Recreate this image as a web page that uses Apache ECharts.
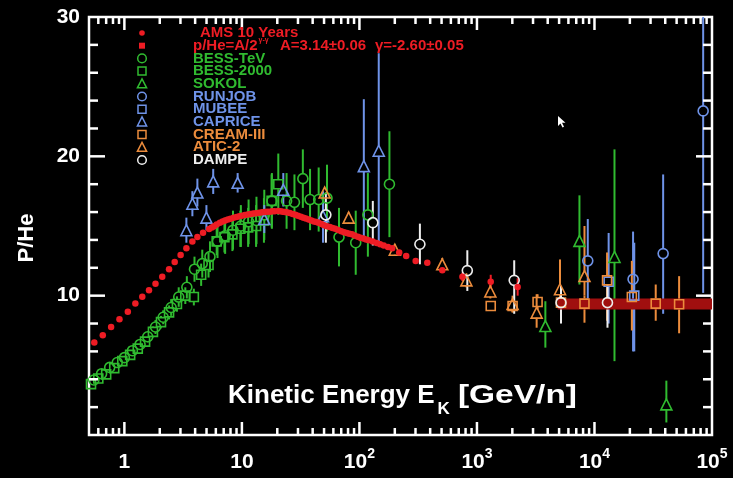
<!DOCTYPE html>
<html><head><meta charset="utf-8">
<script src="https://cdn.jsdelivr.net/npm/echarts@6/dist/echarts.min.js"></script>
<style>html,body{margin:0;padding:0;background:#000;}#c{width:733px;height:478px;}</style>
</head><body><div id="c"></div>
<script>
// ---------------- data ----------------
const amsE = [0.555,0.655,0.771,0.908,1.07,1.24,1.42,1.62,1.84,2.10,2.40,2.68,3.01,3.37,3.79,4.18,4.67,5.26,5.55,5.8,6.1,6.5,6.85,7.2,7.6,8.0,8.5,9.0,9.5,10.0,10.6,11.2,11.8,12.5,13.2,14.0,14.8,15.6,16.4,17.3,18.2,19.0,20.4,21.3,22.3,23.2,24.1,25.5,27,28.5,30,31.7,33.4,35,37,39,41,43,44.9,47.5,50,53,56,59,62.3,66,70,74,78,82,86.3,91,97,102,108,114,120,130,140,150,161,175,190,218,250,301,378,507,752,1310,2220];
const amsV = [6.63,7.16,7.75,8.31,8.85,9.43,9.93,10.39,10.86,11.36,11.89,12.42,12.92,13.40,13.88,14.21,14.52,14.79,14.9,14.98,15.1,15.24,15.32,15.40,15.46,15.52,15.59,15.65,15.70,15.74,15.79,15.83,15.86,15.89,15.92,15.95,15.98,16.0,16.02,16.03,16.05,16.06,16.08,16.06,16.03,16.0,15.98,15.93,15.87,15.8,15.74,15.67,15.60,15.53,15.46,15.4,15.33,15.28,15.24,15.14,15.05,14.98,14.92,14.86,14.81,14.71,14.62,14.56,14.5,14.45,14.41,14.32,14.22,14.16,14.1,14.04,13.98,13.88,13.78,13.69,13.6,13.5,13.4,13.09,12.85,12.49,12.37,11.82,11.35,11.0,10.62];
const amsErrE = [752,1310,2220];
const amsErrV = [11.35,11.0,10.62];
const amsErrLo = [11.05,10.5,10.0];
const amsErrHi = [11.65,11.5,11.25];

const bandE = [4860,100000];
const bandV = [9.4,9.4];

const tevE = [0.55,0.64,0.75,0.87,1.0,1.17,1.36,1.58,1.84,2.14,2.5,2.9,3.4,3.95,4.6,5.35,6.2,7.2,8.4,9.8,11.4,13.3,15.5,18,24,28,33,38,45,53,67,93,118,180];
const tevV = [3.95,4.4,4.85,5.2,5.55,6.05,6.5,7.05,7.75,8.45,9.15,9.9,10.6,11.9,12.3,12.8,13.9,14.3,14.7,15.0,15.3,15.4,15.8,16.8,16.8,16.7,18.4,16.9,16.9,17.0,14.2,13.8,15.8,18.0];
const tevErr = [0.2,0.25,0.25,0.3,0.3,0.35,0.35,0.4,0.5,0.5,0.6,0.7,0.8,0.9,1.0,1.1,1.2,1.3,1.4,1.5,1.6,1.7,1.8,2.0,2.0,2.0,2.1,2.2,2.3,2.4,2.1,2.3,3.0,3.8];

const b2E = [0.52,0.6,0.7,0.82,0.96,1.12,1.3,1.5,1.75,2.05,2.4,2.8,3.3,3.9,4.5,5.2,6.1,7.1,8.3,9.7,11.3,13.2,15.4,17.9,20.4];
const b2V = [3.65,4.05,4.35,4.8,5.3,5.75,6.2,6.7,7.4,8.1,8.8,9.4,10.0,9.9,11.5,12.2,13.9,14.2,14.4,14.8,14.9,15.0,15.4,16.8,18.0];
const b2Err = [0.15,0.2,0.2,0.25,0.25,0.3,0.3,0.35,0.4,0.45,0.5,0.55,0.6,0.6,0.8,0.9,1.0,1.1,1.2,1.3,1.4,1.5,1.6,1.9,2.2];

const sokE = [3820,7450,14800,40900];
const sokV = [7.82,13.93,12.78,2.2];
const sokLo = [6.27,10.8,5.3,0.9];
const sokHi = [9.6,17.2,20.5,3.9];

const rjE = [8770,21300,38400,84100];
const rjV = [12.5,11.18,13.02,23.26];
const rjLo = [9.6,6.0,8.7,10.2];
const rjHi = [15.5,14.6,18.7,32];

const muE = [13200,21800];
const muV = [11.0,10.0];
const muLo = [8.0,6.0];
const muHi = [14.5,13.8];

const capE = [3.37,3.79,4.18,4.99,5.7,9.2,15.5,22.5,49,109,146];
const capV = [14.7,16.6,17.4,15.6,18.2,18.1,15.5,17.6,15.7,19.3,20.4];
const capLo = [13.8,15.7,16.4,14.7,17.3,17.4,14.5,16.4,13.8,14.2,13.9];
const capHi = [15.6,17.5,18.4,16.5,19.1,18.8,16.5,18.8,17.5,24.1,27.4];

const crE = [1310,2010,3280,5190,8220,12800,20800,33200,52500];
const crV = [9.26,9.26,9.55,9.5,9.43,11.1,9.9,9.43,9.38];
const crLo = [8.9,8.8,9.0,8.9,8.06,8.2,7.5,8.2,7.3];
const crHi = [9.6,9.7,10.1,10.1,10.0,13.1,12.5,10.8,11.4];

const atE = [50.6,81,200,507,813,1300,2010,3220,5090,8220];
const atV = [17.4,15.6,13.3,12.25,11.1,10.3,9.4,8.78,10.46,11.41];
const atLo = [17.1,15.2,12.9,11.8,10.6,9.8,8.8,7.7,9.1,10.0];
const atHi = [17.7,16.0,13.7,12.7,11.6,10.8,10.0,10.1,12.6,15.0];

const dpE = [51.8,130,327,828,2075,5190,12900];
const dpV = [15.8,15.24,13.69,11.8,11.1,9.5,9.5];
const dpLo = [13.8,13.6,12.25,10.34,8.7,8.0,7.7];
const dpHi = [17.4,16.8,15.17,13.26,12.54,10.7,10.8];

const xMajorTicks = [1,10,100,1000,10000];
const yMajorTicks = [10,20];
const yMinorTicks = [2,4,6,8,12,14,16,18,22,24,26,28];
const xMinorTicks = [];
[0.1,1,10,100,1000,10000].forEach(d=>{for(let k=2;k<=9;k++){const t=d*k; if(t>0.5&&t<100000) xMinorTicks.push(t);}});

// ---------------- styling ----------------
const RED='#ee1c24', GREEN='#30bb30', BLUE='#6f93e8', ORANGE='#ec8c3c', WHITE='#eeeeee', BAND='#a00f0f';
const FONT='"Liberation Sans", Arial, sans-serif';

function errSeries(E,V,LO,HI,color,gap,w){
  return {type:'custom',coordinateSystem:'cartesian2d',clip:true,silent:true,z:2,
    data:E.map((e,i)=>[e,V[i],LO[i],HI[i]]),encode:{x:0,y:1},
    renderItem:function(params,api){
      const c=api.coord([api.value(0),api.value(1)]);
      const a=api.coord([api.value(0),api.value(3)]);
      const b=api.coord([api.value(0),api.value(2)]);
      const ch=[];
      if(c[1]-gap>a[1]) ch.push({type:'line',shape:{x1:c[0],y1:a[1],x2:c[0],y2:c[1]-gap},style:{stroke:color,lineWidth:w}});
      if(b[1]>c[1]+gap) ch.push({type:'line',shape:{x1:c[0],y1:c[1]+gap,x2:c[0],y2:b[1]},style:{stroke:color,lineWidth:w}});
      return {type:'group',children:ch};
    }};
}
function markSeries(name,E,V,symbol,size,color,filled,z){
  return {name,type:'scatter',symbol,symbolSize:size,z:z||3,silent:true,
    data:E.map((e,i)=>[e,V[i]]),
    itemStyle:filled?{color:color,opacity:1}:{color:'rgba(0,0,0,0)',borderColor:color,borderWidth:1.6,opacity:1}};
}
function xTicks(vals,len){
  return {type:'custom',coordinateSystem:'cartesian2d',silent:true,z:6,
    data:vals.map(v=>[v,15]),encode:{x:0,y:1},
    renderItem:function(params,api){
      const p=api.coord([api.value(0),15]);const cs=params.coordSys;const yb=cs.y+cs.height;
      const st={stroke:'#fff',lineWidth:2.5};
      return {type:'group',children:[
        {type:'line',shape:{x1:p[0],y1:yb,x2:p[0],y2:yb-len},style:st},
        {type:'line',shape:{x1:p[0],y1:cs.y,x2:p[0],y2:cs.y+len},style:st}]};
    }};
}
function yTicks(vals,len){
  return {type:'custom',coordinateSystem:'cartesian2d',silent:true,z:6,
    data:vals.map(v=>[1,v]),encode:{x:0,y:1},
    renderItem:function(params,api){
      const p=api.coord([1,api.value(1)]);const cs=params.coordSys;const xr=cs.x+cs.width;
      const st={stroke:'#fff',lineWidth:2.5};
      return {type:'group',children:[
        {type:'line',shape:{x1:cs.x,y1:p[1],x2:cs.x+len,y2:p[1]},style:st},
        {type:'line',shape:{x1:xr,y1:p[1],x2:xr-len,y2:p[1]},style:st}]};
    }};
}

// text measuring helper (for placing the subscript in the axis title)
const mctx=document.createElement('canvas').getContext('2d');
function textW(font,t){mctx.font=font;return mctx.measureText(t).width;}

// legend (drawn as graphics)
const legendRows = [
  {text:'AMS 10 Years',color:RED,mk:'dot',dx:7},
  {text:'p/He=A/2{s|γ-γ}',color:RED,mk:'fsq',dx:0},
  {text:'BESS-TeV',color:GREEN,mk:'circle',dx:0},
  {text:'BESS-2000',color:GREEN,mk:'rect',dx:0},
  {text:'SOKOL',color:GREEN,mk:'tri',dx:0},
  {text:'RUNJOB',color:BLUE,mk:'circle',dx:0},
  {text:'MUBEE',color:BLUE,mk:'rect',dx:0},
  {text:'CAPRICE',color:BLUE,mk:'tri',dx:0},
  {text:'CREAM-III',color:ORANGE,mk:'rect',dx:0},
  {text:'ATIC-2',color:ORANGE,mk:'tri',dx:0},
  {text:'DAMPE',color:WHITE,mk:'circle',dx:0}
];
const graphics=[];
legendRows.forEach((r,i)=>{
  const cy=33+i*12.7, cx=142;
  let m;
  if(r.mk==='dot') m={type:'circle',shape:{cx,cy,r:2.8},style:{fill:r.color}};
  else if(r.mk==='fsq') m={type:'rect',shape:{x:cx-3,y:cy-3,width:6,height:6},style:{fill:r.color}};
  else if(r.mk==='circle') m={type:'circle',shape:{cx,cy,r:4.3},style:{fill:'none',stroke:r.color,lineWidth:1.5}};
  else if(r.mk==='rect') m={type:'rect',shape:{x:cx-4,y:cy-4,width:8,height:8},style:{fill:'none',stroke:r.color,lineWidth:1.5}};
  else m={type:'polygon',shape:{points:[[cx,cy-5],[cx+4.6,cy+4],[cx-4.6,cy+4]]},style:{fill:'none',stroke:r.color,lineWidth:1.5}};
  m.z=10; graphics.push(m);
  graphics.push({type:'text',x:193+r.dx,y:cy,z:10,style:{text:r.text,fill:r.color,font:'bold 15px '+FONT,verticalAlign:'middle',
    rich:{s:{fontSize:7,fontWeight:'bold',fill:r.color,padding:[0,0,12,1],fontFamily:FONT}}}});
});
graphics.push({type:'text',x:280,y:33+12.7,z:10,style:{text:'A=3.14±0.06',fill:RED,font:'bold 15px '+FONT,verticalAlign:'middle'}});
graphics.push({type:'text',x:375,y:33+12.7,z:10,style:{text:'γ=-2.60±0.05',fill:RED,font:'bold 15px '+FONT,verticalAlign:'middle'}});
// axis titles
graphics.push({type:'text',x:27,y:238,rotation:Math.PI/2,z:10,style:{text:'P/He',fill:'#fff',font:'bold 22px '+FONT,align:'center',verticalAlign:'middle'}});
const TF='bold 26px '+FONT, KF='bold 17px '+FONT;
const t1='Kinetic Energy E', t3='[GeV/n]';
const x0=228, w1=textW(TF,t1), wk=textW(KF,'K');
const x3=x0+w1+3+wk+8, w3=textW(TF,t3);
graphics.push({type:'text',x:x0,y:396,z:10,style:{text:t1,fill:'#fff',font:TF,verticalAlign:'middle'}});
graphics.push({type:'text',x:x0+w1+3,y:409,z:10,style:{text:'K',fill:'#fff',font:KF,verticalAlign:'middle'}});
graphics.push({type:'text',x:x3,y:396,scaleX:(577-x3)/w3,z:10,style:{text:t3,fill:'#fff',font:TF,verticalAlign:'middle'}});
// mouse pointer artifact
graphics.push({type:'polygon',z:10,shape:{points:[[558,116],[558,126],[560.5,123.5],[562.5,127.5],[564,126.8],[562,122.8],[565.5,122.8]]},style:{fill:'#fff'}});

const option={
  backgroundColor:'#000',
  animation:false,
  grid:{left:89,right:21,top:17,bottom:43,show:true,borderColor:'#fff',borderWidth:2.5,backgroundColor:'transparent'},
  xAxis:{type:'log',logBase:10,min:0.5,max:100000,
    axisLine:{show:false},axisTick:{show:false},splitLine:{show:false},minorTick:{show:false},
    axisLabel:{color:'#fff',margin:12,showMinLabel:true,showMaxLabel:true,
      formatter:function(v){const e=Math.log10(v);const r=Math.round(e);if(Math.abs(e-r)>1e-6)return '';
        if(r===0)return '{b|1}';if(r===1)return '{b|10}';return '{b|10}{s|'+r+'}';},
      rich:{b:{fontSize:21,fontWeight:'bold',fontFamily:FONT,color:'#fff',lineHeight:26,verticalAlign:'bottom'},
            s:{fontSize:14,fontWeight:'bold',fontFamily:FONT,color:'#fff',lineHeight:14,verticalAlign:'top'}}}},
  yAxis:{type:'value',min:0,max:30,interval:10,
    axisLine:{show:false},axisTick:{show:false},splitLine:{show:false},
    axisLabel:{color:'#fff',fontSize:21,fontWeight:'bold',fontFamily:FONT,margin:9,
      formatter:function(v){return v===0?'':String(v);}}},
  graphic:graphics,
  series:[
    xTicks(xMajorTicks,13), xTicks(xMinorTicks,7), yTicks(yMajorTicks,16), yTicks(yMinorTicks,9),
    {name:'p/He fit',type:'line',data:bandE.map((e,i)=>[e,bandV[i]]),symbol:'none',silent:true,z:2.5,
      lineStyle:{color:BAND,width:11}},
    errSeries(tevE,tevV,tevV.map((v,i)=>v-tevErr[i]),tevV.map((v,i)=>v+tevErr[i]),GREEN,5,2),
    errSeries(b2E,b2V,b2V.map((v,i)=>v-b2Err[i]),b2V.map((v,i)=>v+b2Err[i]),GREEN,5,2),
    errSeries(sokE,sokV,sokLo,sokHi,GREEN,5,2),
    errSeries(rjE,rjV,rjLo,rjHi,BLUE,5,2),
    errSeries(muE,muV,muLo,muHi,BLUE,5,2),
    errSeries(capE,capV,capLo,capHi,BLUE,5,2),
    errSeries(crE,crV,crLo,crHi,ORANGE,5,2),
    errSeries(atE,atV,atLo,atHi,ORANGE,5,2),
    errSeries(dpE,dpV,dpLo,dpHi,WHITE,5,2),
    errSeries(amsErrE,amsErrV,amsErrLo,amsErrHi,RED,2,2),
    markSeries('BESS-TeV',tevE,tevV,'circle',10,GREEN),
    markSeries('BESS-2000',b2E,b2V,'rect',9,GREEN),
    markSeries('SOKOL',sokE,sokV,'triangle',11,GREEN),
    markSeries('RUNJOB',rjE,rjV,'circle',10,BLUE),
    markSeries('MUBEE',muE,muV,'rect',9,BLUE),
    markSeries('CAPRICE',capE,capV,'triangle',11,BLUE),
    markSeries('CREAM-III',crE,crV,'rect',9,ORANGE),
    markSeries('ATIC-2',atE,atV,'triangle',11,ORANGE),
    markSeries('DAMPE',dpE,dpV,'circle',10,WHITE),
    markSeries('AMS 10 Years',amsE,amsV,'circle',6.5,RED,true,5)
  ]
};
const chart=echarts.init(document.getElementById('c'));
chart.setOption(option);
</script></body></html>
